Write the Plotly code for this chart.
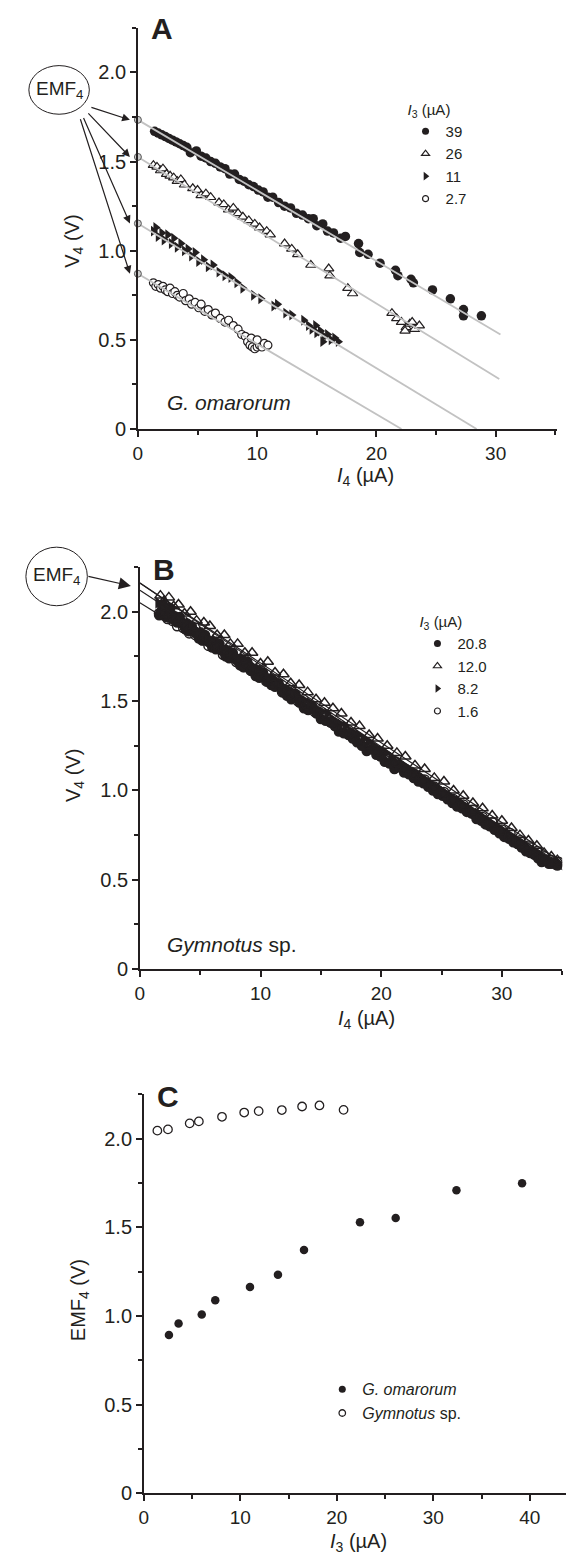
import plotly.graph_objects as go

W, H = 574, 1555
FONT = "Liberation Sans, Arial, Helvetica, sans-serif"
INK = "#231f20"

# ---------------- Panel A data (G. omarorum) ----------------
A_LEGEND = ["39", "26", "11", "2.7"]
A39_X = [1.4, 1.7, 2.0, 2.3, 2.6, 2.9, 3.2, 3.5, 3.8, 4.1, 4.4, 4.9, 5.3, 5.7, 6.1, 6.5, 6.9, 7.3, 7.7, 8.1,
         8.5, 8.9, 9.3, 9.7, 10.1, 10.5, 10.9, 11.3, 11.8, 12.3, 12.8, 13.3, 13.8, 14.3, 14.7, 15.0, 15.5,
         15.9, 16.4, 17.0, 17.4, 18.5, 18.6, 19.3, 20.3, 21.6, 21.8, 22.9, 23.1, 24.7, 26.2, 27.3, 27.3, 28.8]
A39_Y = [1.67, 1.66, 1.65, 1.64, 1.63, 1.62, 1.61, 1.60, 1.59, 1.58, 1.55, 1.56, 1.53, 1.52, 1.50, 1.49, 1.47,
         1.46, 1.43, 1.43, 1.40, 1.39, 1.37, 1.36, 1.34, 1.33, 1.30, 1.30, 1.27, 1.25, 1.24, 1.21, 1.20, 1.18,
         1.18, 1.14, 1.15, 1.11, 1.10, 1.07, 1.08, 1.04, 0.99, 0.98, 0.93, 0.89, 0.86, 0.84, 0.82, 0.78, 0.73,
         0.67, 0.635, 0.635]
A26_X = [1.3, 1.6, 1.9, 2.1, 2.4, 2.7, 3.0, 3.3, 3.6, 3.9, 4.6, 5.0, 5.3, 5.7, 6.1, 6.8, 7.2, 7.6, 8.0, 8.4,
         8.8, 9.3, 9.8, 10.2, 10.8, 11.1, 12.3, 12.9, 13.4, 14.5, 16.0, 16.1, 17.6, 18.0, 21.3, 21.7, 22.1,
         22.5, 22.8, 23.2, 23.6, 23.0, 22.4]
A26_Y = [1.48, 1.47, 1.45, 1.46, 1.43, 1.42, 1.41, 1.39, 1.40, 1.37, 1.35, 1.34, 1.31, 1.32, 1.30, 1.27, 1.26,
         1.23, 1.24, 1.21, 1.19, 1.17, 1.15, 1.13, 1.11, 1.09, 1.04, 1.01, 0.98, 0.92, 0.90, 0.86, 0.79, 0.76,
         0.65, 0.62, 0.60, 0.57, 0.59, 0.56, 0.58, 0.60, 0.55]
A11_X = [1.3, 1.5, 1.7, 2.0, 2.2, 2.5, 2.8, 3.0, 3.3, 3.6, 3.9, 4.2, 4.5, 4.8, 5.1, 5.5, 5.9, 6.3, 6.8, 7.3,
         7.8, 8.3, 8.8, 9.7, 10.3, 11.4, 11.7, 12.4, 12.9, 13.9, 14.3, 14.6, 15.0, 15.3, 15.6, 15.9, 16.2,
         16.5, 14.9, 15.5, 16.8]
A11_Y = [1.11, 1.13, 1.08, 1.10, 1.06, 1.09, 1.04, 1.07, 1.02, 1.04, 1.00, 1.01, 0.97, 0.99, 0.94, 0.95, 0.91,
         0.92, 0.88, 0.86, 0.85, 0.82, 0.79, 0.75, 0.73, 0.69, 0.70, 0.65, 0.64, 0.61, 0.58, 0.56, 0.54, 0.55,
         0.52, 0.53, 0.50, 0.51, 0.58, 0.49, 0.49]
A27_X = [1.3, 1.5, 1.7, 1.9, 2.1, 2.3, 2.5, 2.7, 2.9, 3.1, 3.3, 3.5, 3.8, 4.0, 4.3, 4.5, 4.8, 5.1, 5.3, 5.6,
         5.9, 6.2, 6.5, 6.9, 7.3, 7.6, 8.0, 8.4, 8.7, 9.0, 9.2, 9.4, 9.6, 9.8, 10.0, 10.2, 10.4, 10.6, 10.9,
         9.5, 10.0]
A27_Y = [0.82, 0.80, 0.81, 0.79, 0.80, 0.78, 0.77, 0.79, 0.76, 0.77, 0.75, 0.74, 0.76, 0.72, 0.73, 0.70, 0.71,
         0.68, 0.70, 0.66, 0.67, 0.64, 0.65, 0.62, 0.60, 0.61, 0.58, 0.56, 0.53, 0.52, 0.49, 0.47, 0.46, 0.45,
         0.46, 0.47, 0.46, 0.48, 0.47, 0.51, 0.50]
EMF_A = [1.734, 1.526, 1.153, 0.871]
XEND_A = [30.4, 30.3, 28.4, 22.1]
VEND_A = [0.53, 0.28, 0.0, 0.0]

# ---------------- Panel B data (Gymnotus sp.) ----------------
B_LEGEND = ["20.8", "12.0", "8.2", "1.6"]
B208_X = [1.6, 1.9, 2.2, 2.5, 2.9, 3.3, 3.8, 4.3, 4.9, 5.4, 6.0, 6.6, 7.1, 7.7, 8.3, 8.9, 9.6, 10.2, 10.9,
          11.5, 12.2, 12.9, 13.6, 14.3, 15.0, 15.8, 16.5, 17.3, 18.0, 18.8, 19.6, 20.3, 21.1, 21.9, 22.7, 23.5,
          24.3, 25.1, 25.9, 26.7, 27.5, 28.3, 29.0, 29.8, 30.6, 31.3, 32.0, 32.7, 33.3, 33.9, 34.4,
          1.75, 2.05, 2.35, 2.7, 3.1, 3.55, 4.05, 4.6, 5.15, 5.7, 6.3, 6.85, 7.4, 8.0, 8.6, 9.25, 9.9, 10.55,
          11.2, 11.85, 12.55, 13.25, 13.95, 14.65, 15.4, 16.15, 16.9, 17.65, 18.4, 19.2, 19.95, 20.7, 21.5,
          22.3, 23.1, 23.9, 24.7, 25.5, 26.3, 27.1, 27.9, 28.65, 29.4, 30.2, 30.95, 31.65, 32.35, 33.0, 33.6,
          34.15, 34.6]
B208_Y = [1.98, 2.04, 1.97, 2.02, 1.95, 1.97, 1.90, 1.92, 1.85, 1.87, 1.80, 1.82, 1.75, 1.77, 1.70, 1.72, 1.64,
          1.66, 1.59, 1.60, 1.53, 1.54, 1.46, 1.47, 1.40, 1.38, 1.33, 1.31, 1.27, 1.22, 1.20, 1.16, 1.12, 1.10,
          1.07, 1.04, 1.00, 0.97, 0.93, 0.90, 0.87, 0.83, 0.80, 0.76, 0.73, 0.70, 0.66, 0.64, 0.60, 0.59, 0.60,
          2.00, 1.99, 1.98, 1.96, 1.94, 1.93, 1.89, 1.88, 1.84, 1.83, 1.79, 1.78, 1.74, 1.73, 1.69, 1.67, 1.63,
          1.61, 1.58, 1.55, 1.51, 1.49, 1.45, 1.43, 1.39, 1.36, 1.32, 1.29, 1.25, 1.23, 1.19, 1.15, 1.13, 1.09,
          1.05, 1.02, 0.98, 0.95, 0.91, 0.88, 0.84, 0.81, 0.78, 0.74, 0.71, 0.68, 0.65, 0.62, 0.61, 0.59, 0.58]
B120_X = [1.7, 2.0, 2.4, 2.8, 3.2, 3.7, 4.2, 4.7, 5.3, 5.8, 6.4, 7.0, 7.5, 8.1, 8.7, 9.3, 10.0, 10.6, 11.2,
          11.9, 12.5, 13.2, 13.9, 14.6, 15.3, 16.0, 16.7, 17.5, 18.2, 19.0, 19.7, 20.5, 21.3, 22.0, 22.8, 23.6,
          24.4, 25.2, 26.0, 26.8, 27.6, 28.4, 29.2, 30.0, 30.8, 31.5, 32.2, 32.9, 33.5, 34.1, 34.6]
B120_Y = [2.09, 2.06, 2.08, 2.03, 2.04, 1.99, 2.00, 1.95, 1.94, 1.92, 1.87, 1.87, 1.82, 1.82, 1.77, 1.77, 1.71,
          1.72, 1.66, 1.65, 1.60, 1.59, 1.55, 1.51, 1.49, 1.46, 1.43, 1.38, 1.36, 1.31, 1.29, 1.25, 1.21, 1.19,
          1.14, 1.12, 1.07, 1.05, 1.00, 0.97, 0.93, 0.90, 0.86, 0.83, 0.79, 0.75, 0.72, 0.69, 0.65, 0.63, 0.61]
B82_X = [1.5, 1.8, 2.1, 2.6, 3.0, 3.5, 4.0, 4.5, 5.1, 5.6, 6.2, 6.8, 7.3, 7.9, 8.5, 9.1, 9.8, 10.4, 11.0,
         11.7, 12.4, 13.0, 13.7, 14.4, 15.1, 15.9, 16.6, 17.4, 18.1, 18.9, 19.7, 20.4, 21.2, 22.0, 22.8, 23.6,
         24.4, 25.2, 26.0, 26.8, 27.6, 28.4, 29.2, 30.0, 30.7, 31.4, 32.1, 32.8, 33.4, 34.0, 34.5,
         1.65, 1.95, 2.35, 2.8, 3.25, 3.75, 4.25, 4.8, 5.35, 5.9, 6.5, 7.05, 7.6, 8.2, 8.8, 9.45, 10.1, 10.7,
         11.35, 12.05, 12.7, 13.35, 14.05, 14.75, 15.5, 16.25, 17.0, 17.75, 18.5, 19.3, 20.05, 20.8, 21.6,
         22.4, 23.2, 24.0, 24.8, 25.6, 26.4, 27.2, 28.0, 28.8, 29.6, 30.35, 31.05, 31.75, 32.45, 33.1, 33.7,
         34.25]
B82_Y = [2.05, 2.02, 2.03, 1.99, 1.98, 1.95, 1.94, 1.90, 1.89, 1.85, 1.84, 1.80, 1.79, 1.75, 1.74, 1.70, 1.68,
         1.64, 1.63, 1.58, 1.56, 1.53, 1.50, 1.46, 1.44, 1.40, 1.37, 1.33, 1.31, 1.27, 1.23, 1.21, 1.16, 1.13,
         1.10, 1.06, 1.02, 0.99, 0.95, 0.92, 0.88, 0.85, 0.81, 0.78, 0.74, 0.71, 0.68, 0.65, 0.62, 0.60, 0.59,
         2.04, 2.01, 2.01, 1.98, 1.97, 1.94, 1.93, 1.89, 1.88, 1.84, 1.83, 1.79, 1.78, 1.74, 1.73, 1.69, 1.67,
         1.63, 1.61, 1.57, 1.55, 1.51, 1.49, 1.45, 1.43, 1.38, 1.36, 1.32, 1.29, 1.25, 1.22, 1.18, 1.15, 1.11,
         1.08, 1.04, 1.01, 0.97, 0.94, 0.90, 0.87, 0.83, 0.79, 0.76, 0.73, 0.70, 0.66, 0.64, 0.61, 0.60]
B16_X = [1.6, 2.0, 2.3, 2.7, 3.1, 3.6, 4.1, 4.6, 5.2, 5.7, 6.3, 6.9, 7.4, 8.0, 8.6, 9.2, 9.9, 10.5, 11.1,
         11.8, 12.4, 13.1, 13.8, 14.5, 15.2, 15.9, 16.7, 17.4, 18.2, 18.9, 19.7, 20.5, 21.2, 22.0, 22.8, 23.6,
         24.4, 25.2, 26.0, 26.8, 27.6, 28.4, 29.2, 30.0, 30.7, 31.5, 32.2, 32.9, 33.5, 34.1, 34.7]
B16_Y = [1.99, 1.98, 1.96, 1.95, 1.92, 1.91, 1.88, 1.87, 1.84, 1.81, 1.80, 1.76, 1.75, 1.72, 1.69, 1.67, 1.64,
         1.61, 1.59, 1.55, 1.54, 1.50, 1.48, 1.44, 1.42, 1.38, 1.35, 1.32, 1.28, 1.26, 1.22, 1.19, 1.16, 1.12,
         1.09, 1.06, 1.02, 0.99, 0.95, 0.92, 0.89, 0.85, 0.82, 0.78, 0.76, 0.72, 0.69, 0.66, 0.63, 0.61, 0.60]
EMF_B = [2.16, 2.16, 2.12, 2.05]
XEND_B = [35.6, 35.6, 35.6, 35.6]
VEND_B = [0.53, 0.57, 0.55, 0.56]

# ---------------- Panel C data ----------------
C_GO_I3 = [2.6, 3.6, 6.0, 7.4, 11.0, 13.9, 16.6, 22.4, 26.1, 32.4, 39.2]
C_GO_EMF = [0.893, 0.958, 1.008, 1.089, 1.163, 1.232, 1.372, 1.528, 1.552, 1.709, 1.748]
C_GS_I3 = [1.4, 2.5, 4.75, 5.7, 8.1, 10.4, 11.9, 14.3, 16.4, 18.2, 20.7]
C_GS_EMF = [2.045, 2.052, 2.086, 2.097, 2.123, 2.147, 2.155, 2.161, 2.181, 2.187, 2.162]
C_LEGEND = ["<i>G. omarorum</i>", "<i>Gymnotus</i> sp."]

Y_TICKVALS = [0, 0.5, 1.0, 1.5, 2.0]
Y_TICKTEXT = ["0", "0.5", "1.0", "1.5", "2.0"]


def px(x):
    return x / W


def py(y):
    return 1 - y / H


STYLES_A = [
    dict(symbol="circle", size=9.5, color=INK, line=dict(width=0)),
    dict(symbol="triangle-up", size=9, color="white", line=dict(color=INK, width=1.2)),
    dict(symbol="triangle-right", size=9.5, color=INK, line=dict(width=0)),
    dict(symbol="circle", size=8, color="white", line=dict(color=INK, width=1.2)),
]
STYLES_B = [
    dict(symbol="circle", size=10.5, color=INK, line=dict(width=0)),
    dict(symbol="triangle-up-open", size=10, color=INK, line=dict(color=INK, width=1.5)),
    dict(symbol="triangle-right", size=10.5, color=INK, line=dict(width=0)),
    dict(symbol="circle-open", size=9.5, color=INK, line=dict(color=INK, width=1.5)),
]
STYLES_LEG = [
    dict(symbol="circle", size=7, color=INK, line=dict(width=0)),
    dict(symbol="triangle-up", size=7, color="white", line=dict(color=INK, width=1.2)),
    dict(symbol="triangle-right", size=7.5, color=INK, line=dict(width=0)),
    dict(symbol="circle", size=6, color="white", line=dict(color=INK, width=1.2)),
]

fig = go.Figure()


def legend_proxy(name, marker, xa, ya, leg):
    # empty trace used only for the legend symbol size
    fig.add_trace(go.Scatter(x=[None], y=[None], mode="markers", name=name, marker=marker,
                             xaxis=xa, yaxis=ya, legend=leg, hoverinfo="skip"))


# Panel A
for xs, ys, name, st, lg in zip([A39_X, A26_X, A11_X, A27_X], [A39_Y, A26_Y, A11_Y, A27_Y], A_LEGEND,
                                STYLES_A, STYLES_LEG):
    fig.add_trace(go.Scatter(x=xs, y=ys, mode="markers", name=name, marker=st, showlegend=False,
                             xaxis="x", yaxis="y"))
    legend_proxy(name, lg, "x", "y", "legend")
for e, xe, ve in zip(EMF_A, XEND_A, VEND_A):
    fig.add_trace(go.Scatter(x=[0, xe], y=[e, ve], mode="lines", line=dict(color="#c2c2c2", width=1.8),
                             showlegend=False, xaxis="x", yaxis="y", hoverinfo="skip"))
fig.add_trace(go.Scatter(x=[0] * len(EMF_A), y=EMF_A, mode="markers", showlegend=False, cliponaxis=False,
                         marker=dict(symbol="circle", size=7, color="#cdcdcd", line=dict(color="#555", width=1)),
                         xaxis="x", yaxis="y"))

# Panel B
for xs, ys, name, st, lg in zip([B208_X, B120_X, B82_X, B16_X], [B208_Y, B120_Y, B82_Y, B16_Y], B_LEGEND,
                                STYLES_B, STYLES_LEG):
    fig.add_trace(go.Scatter(x=xs, y=ys, mode="markers", name=name, marker=st, showlegend=False,
                             xaxis="x2", yaxis="y2"))
    legend_proxy(name, lg, "x2", "y2", "legend2")
for e, xe, ve in zip(EMF_B, XEND_B, VEND_B):
    fig.add_trace(go.Scatter(x=[0, xe], y=[e, ve], mode="lines", line=dict(color=INK, width=1.2),
                             showlegend=False, xaxis="x2", yaxis="y2", hoverinfo="skip"))

# Panel C
fig.add_trace(go.Scatter(x=C_GO_I3, y=C_GO_EMF, mode="markers", name=C_LEGEND[0], showlegend=False,
                         marker=dict(symbol="circle", size=8.5, color=INK), xaxis="x3", yaxis="y3"))
fig.add_trace(go.Scatter(x=C_GS_I3, y=C_GS_EMF, mode="markers", name=C_LEGEND[1], showlegend=False,
                         marker=dict(symbol="circle", size=8.5, color="white", line=dict(color=INK, width=1.3)),
                         xaxis="x3", yaxis="y3"))
legend_proxy(C_LEGEND[0], dict(symbol="circle", size=7, color=INK), "x3", "y3", "legend3")
legend_proxy(C_LEGEND[1], dict(symbol="circle", size=6.5, color="white", line=dict(color=INK, width=1.3)),
             "x3", "y3", "legend3")


def xaxis(dom, rng, dtick, anchor):
    return dict(domain=dom, range=rng, anchor=anchor, showline=True, linecolor=INK, linewidth=1.6,
                ticks="outside", ticklen=6, tickwidth=1.5, tickcolor=INK, dtick=dtick, tick0=0,
                showgrid=False, zeroline=False, tickfont=dict(size=19, color=INK, family=FONT),
                minor=dict(dtick=dtick / 2, ticks="outside", ticklen=4, tickwidth=1.5, tickcolor=INK),
                fixedrange=True)


def yaxis(dom, anchor):
    return dict(domain=dom, range=[0, 2.25], anchor=anchor, showline=True, linecolor=INK, linewidth=1.6,
                ticks="outside", ticklen=6, tickwidth=1.5, tickcolor=INK, tickvals=Y_TICKVALS,
                ticktext=Y_TICKTEXT, showgrid=False, zeroline=False,
                tickfont=dict(size=20, color=INK, family=FONT),
                minor=dict(tickvals=[0.25, 0.75, 1.25, 1.75, 2.25], ticks="outside", ticklen=4, tickwidth=1.5,
                           tickcolor=INK),
                fixedrange=True)


legend_common = dict(bgcolor="rgba(0,0,0,0)", borderwidth=0, xanchor="left", yanchor="top",
                     itemsizing="trace", font=dict(size=15, color=INK, family=FONT), tracegroupgap=0,
                     itemwidth=30)

annotations = []
# panel letters
for letter, (lx, ly) in zip(["A", "B", "C"], [(137, 21), (139, 565), (143, 1096)]):
    annotations.append(dict(text=f"<b>{letter}</b>", x=px(lx), y=py(ly), xref="paper", yref="paper",
                            xanchor="left", yanchor="middle", showarrow=False,
                            font=dict(size=30, color=INK, family=FONT)))
# axis titles
for txt, (tx, ty) in zip(["<i>I</i><sub>4</sub> (µA)", "<i>I</i><sub>4</sub> (µA)", "<i>I</i><sub>3</sub> (µA)"],
                         [(356, 472), (357, 1019), (349, 1545)]):
    annotations.append(dict(text=txt, x=px(tx), y=py(ty), xref="paper", yref="paper", xanchor="center",
                            yanchor="middle", showarrow=False, font=dict(size=20, color=INK, family=FONT)))
for txt, (tx, ty) in zip(["V<sub>4</sub> (V)", "V<sub>4</sub> (V)", "EMF<sub>4</sub> (V)"],
                         [(61, 235), (62, 773), (67, 1301)]):
    annotations.append(dict(text=txt, x=px(tx), y=py(ty), xref="paper", yref="paper", xanchor="center",
                            yanchor="middle", textangle=-90, showarrow=False,
                            font=dict(size=20, color=INK, family=FONT)))
# species labels
annotations.append(dict(text="<i>G. omarorum</i>", x=px(153), y=py(397), xref="paper", yref="paper",
                        xanchor="left", yanchor="middle", showarrow=False,
                        font=dict(size=21, color=INK, family=FONT)))
annotations.append(dict(text="<i>Gymnotus</i> sp.", x=px(153), y=py(943), xref="paper", yref="paper",
                        xanchor="left", yanchor="middle", showarrow=False,
                        font=dict(size=21, color=INK, family=FONT)))
# EMF bubble labels
annotations.append(dict(text="EMF<sub>4</sub>", x=px(47), y=py(83), xref="paper", yref="paper",
                        xanchor="center", yanchor="middle", showarrow=False,
                        font=dict(size=19, color=INK, family=FONT)))
annotations.append(dict(text="EMF<sub>4</sub>", x=px(44), y=py(572), xref="paper", yref="paper",
                        xanchor="center", yanchor="middle", showarrow=False,
                        font=dict(size=19, color=INK, family=FONT)))
# arrows panel A
for e, (ax, ay) in zip(EMF_A, [(-40, -13), (-43, -45), (-47, -107), (-50, -156)]):
    annotations.append(dict(text="", x=0, y=e, xref="x", yref="y", xshift=-8, ax=ax, ay=ay,
                            showarrow=True, arrowhead=2, arrowsize=1.3, arrowwidth=1.2, arrowcolor=INK))
# arrow panel B
annotations.append(dict(text="", x=0, y=2.144, xref="x2", yref="y2", xshift=-9, ax=-44, ay=-10,
                        showarrow=True, arrowhead=2, arrowsize=2.0, arrowwidth=1.2, arrowcolor=INK))

shapes = [
    dict(type="circle", xref="paper", yref="paper", x0=px(16), x1=px(77), y0=py(107), y1=py(58),
         line=dict(color=INK, width=1)),
    dict(type="circle", xref="paper", yref="paper", x0=px(13), x1=px(75), y0=py(602), y1=py(543),
         line=dict(color=INK, width=1)),
]

fig.update_layout(
    width=W, height=H, margin=dict(l=0, r=0, t=0, b=0), autosize=False,
    paper_bgcolor="white", plot_bgcolor="white",
    font=dict(family=FONT, color=INK),
    xaxis=xaxis([px(126), px(549)], [0, 35.16], 10, "y"),
    yaxis=yaxis([py(424), py(20)], "x"),
    xaxis2=xaxis([px(128), px(554)], [0, 35.0], 10, "y2"),
    yaxis2=yaxis([py(968), py(563)], "x2"),
    xaxis3=xaxis([px(132), px(570)], [0, 45.0], 10, "y3"),
    yaxis3=yaxis([py(1496), py(1094)], "x3"),
    legend=dict(x=px(396), y=py(88), title=dict(text="<i>I</i><sub>3</sub> (µA)", font=dict(size=15)),
                **legend_common),
    legend2=dict(x=px(408), y=py(604), title=dict(text="<i>I</i><sub>3</sub> (µA)", font=dict(size=15)),
                 **legend_common),
    legend3=dict(x=px(312), y=py(1374), **{**legend_common, "font": dict(size=16, color=INK, family=FONT)}),
    annotations=annotations,
    shapes=shapes,
    showlegend=True,
)

fig.write_html("out.html")
